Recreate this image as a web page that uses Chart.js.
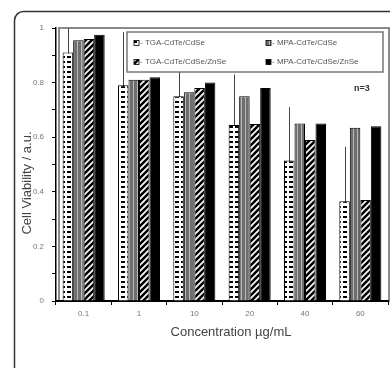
<!DOCTYPE html>
<html lang="en">
<head>
    <meta charset="UTF-8">
    <title>Cell Viability</title>
    <style>
        body { margin: 0; padding: 0; background: #fff; }
        canvas { display: block; }
    </style>
    <script src="https://cdn.jsdelivr.net/npm/chart.js"></script>
</head>
<body>
    <canvas id="barChart" width="390" height="368"></canvas>

    <script>
        // Data
        const categories = ['0.1', '1', '10', '20', '40', '60'];
        const seriesNames = ['TGA-CdTe/CdSe', 'MPA-CdTe/CdSe', 'TGA-CdTe/CdSe/ZnSe', 'MPA-CdTe/CdSe/ZnSe'];
        const tgaCore = [0.91, 0.79, 0.75, 0.645, 0.515, 0.365];
        const mpaCore = [0.955, 0.81, 0.765, 0.75, 0.65, 0.635];
        const tgaShell = [0.96, 0.81, 0.78, 0.648, 0.59, 0.37];
        const mpaShell = [0.975, 0.82, 0.80, 0.78, 0.65, 0.64];
        const tgaCoreErr = [0.1, 0.195, 0.09, 0.185, 0.195, 0.2];
        const yMin = 0, yMax = 1, yStep = 0.1;
        const xTitle = 'Concentration \u00b5g/mL';
        const yTitle = 'Cell Viability / a.u.';

        // Fill patterns for the bars
        function makePattern(w, h, draw) {
            const c = document.createElement('canvas');
            c.width = w; c.height = h;
            const g = c.getContext('2d');
            draw(g, w, h);
            return g.createPattern(c, 'repeat');
        }
        const ctx = document.getElementById('barChart').getContext('2d');

        const dashFill = makePattern(6, 5, (g, w, h) => {
            g.fillStyle = '#fff'; g.fillRect(0, 0, w, h);
            g.fillStyle = '#000'; g.fillRect(1, 1, 4, 2);
        });
        const greyFill = makePattern(4, 1, (g, w, h) => {
            g.fillStyle = '#6e6e6e'; g.fillRect(0, 0, w, h);
            g.fillStyle = '#b8b8b8'; g.fillRect(1, 0, 1, h);
        });
        const hatchFill = makePattern(6, 6, (g, w, h) => {
            g.fillStyle = '#fff'; g.fillRect(0, 0, w, h);
            g.strokeStyle = '#000'; g.lineWidth = 2.6;
            g.beginPath();
            g.moveTo(-1, 7); g.lineTo(7, -1);
            g.moveTo(-4, 4); g.lineTo(4, -4);
            g.moveTo(2, 10); g.lineTo(10, 2);
            g.stroke();
        });

        // Outer frame, plot box, error bars, legend box, axis titles and n=3 note
        const decorations = {
            id: 'decorations',
            beforeDraw(chart) {
                const c = chart.ctx;
                c.save();
                c.fillStyle = '#fff';
                c.fillRect(0, 0, chart.width, chart.height);
                c.strokeStyle = '#333';
                c.lineWidth = 1.5;
                c.beginPath();
                c.roundRect(14.5, 11.5, 420, 420, 9);
                c.stroke();
                const a = chart.chartArea;
                c.strokeStyle = '#8a8a8a';
                c.lineWidth = 2;
                c.strokeRect(a.left + 3, a.top, a.right - a.left - 2, a.bottom - a.top);
                c.restore();
            },
            beforeDatasetsDraw(chart) {
                const c = chart.ctx;
                const y = chart.scales.y;
                const meta = chart.getDatasetMeta(0);
                c.save();
                c.beginPath();
                c.rect(chart.chartArea.left, chart.chartArea.top, chart.chartArea.right - chart.chartArea.left, chart.chartArea.bottom - chart.chartArea.top);
                c.clip();
                c.strokeStyle = '#444';
                c.lineWidth = 1;
                meta.data.forEach((bar, i) => {
                    const v = tgaCore[i];
                    const x = Math.round(bar.x) + 0.5;
                    c.beginPath();
                    c.moveTo(x, y.getPixelForValue(v - tgaCoreErr[i]));
                    c.lineTo(x, y.getPixelForValue(v + tgaCoreErr[i]));
                    c.stroke();
                });
                c.restore();
            },
            afterDraw(chart) {
                const c = chart.ctx;
                c.save();
                // legend box
                const bx = 127, by = 32, bw = 256, bh = 40;
                c.fillStyle = '#fff';
                c.fillRect(bx, by, bw, bh);
                c.strokeStyle = '#777';
                c.lineWidth = 1.5;
                c.strokeRect(bx, by, bw, bh);
                c.font = '8px "Liberation Sans", Arial, sans-serif';
                c.textBaseline = 'middle';
                const pos = [[134, 43], [266, 43], [134, 62], [266, 62]];
                chart.data.datasets.forEach((ds, i) => {
                    const [px, py] = pos[i];
                    c.fillStyle = ds.backgroundColor;
                    c.fillRect(px, py - 2.5, 5, 5);
                    c.strokeStyle = '#000';
                    c.lineWidth = 0.8;
                    c.strokeRect(px, py - 2.5, 5, 5);
                    c.fillStyle = '#555';
                    c.fillText('- ' + ds.label, px + 6, py);
                });
                // n=3 note
                c.fillStyle = '#333';
                c.font = 'bold 9px "Liberation Sans", Arial, sans-serif';
                c.fillText('n=3', 354, 89);
                // axis titles
                c.fillStyle = '#444';
                c.textAlign = 'center';
                c.font = '13px "Liberation Sans", Arial, sans-serif';
                c.fillText(xTitle, 231, 332);
                c.translate(27, 183);
                c.rotate(-Math.PI / 2);
                c.fillText(yTitle, 0, 0);
                c.restore();
            }
        };

        const seriesData = [tgaCore, mpaCore, tgaShell, mpaShell];
        const fills = [dashFill, greyFill, hatchFill, '#000'];

        new Chart(ctx, {
            type: 'bar',
            data: {
                labels: categories,
                datasets: seriesData.map((vals, i) => ({
                    label: seriesNames[i],
                    data: vals,
                    backgroundColor: fills[i],
                    borderColor: '#000',
                    borderWidth: 1,
                    categoryPercentage: 0.76,
                    barPercentage: 1
                }))
            },
            options: {
                responsive: false,
                animation: false,
                devicePixelRatio: 1,
                layout: { padding: { left: 0, top: 28, right: 2, bottom: 0 } },
                plugins: {
                    legend: { display: false },
                    tooltip: { enabled: false }
                },
                scales: {
                    x: {
                        offset: true,
                        grid: { offset: true, drawOnChartArea: false, color: '#000', tickLength: 4 },
                        border: { color: '#000', width: 2 },
                        ticks: { color: '#777', padding: 4, font: { size: 8, family: '"Liberation Sans", Arial' } },
                        afterFit(s) { s.height = 67; }
                    },
                    y: {
                        min: yMin,
                        max: yMax,
                        grid: { drawOnChartArea: false, color: '#000', tickLength: 4 },
                        border: { color: '#000', width: 1.5 },
                        ticks: {
                            stepSize: yStep,
                            padding: 8,
                            color: '#777',
                            font: { size: 8, family: '"Liberation Sans", Arial' },
                            callback: v => (Math.round(v * 10) % 2 === 0 ? String(Math.round(v * 10) / 10) : '')
                        },
                        afterFit(s) { s.width = 56; }
                    }
                }
            },
            plugins: [decorations]
        });
    </script>
</body>
</html>
